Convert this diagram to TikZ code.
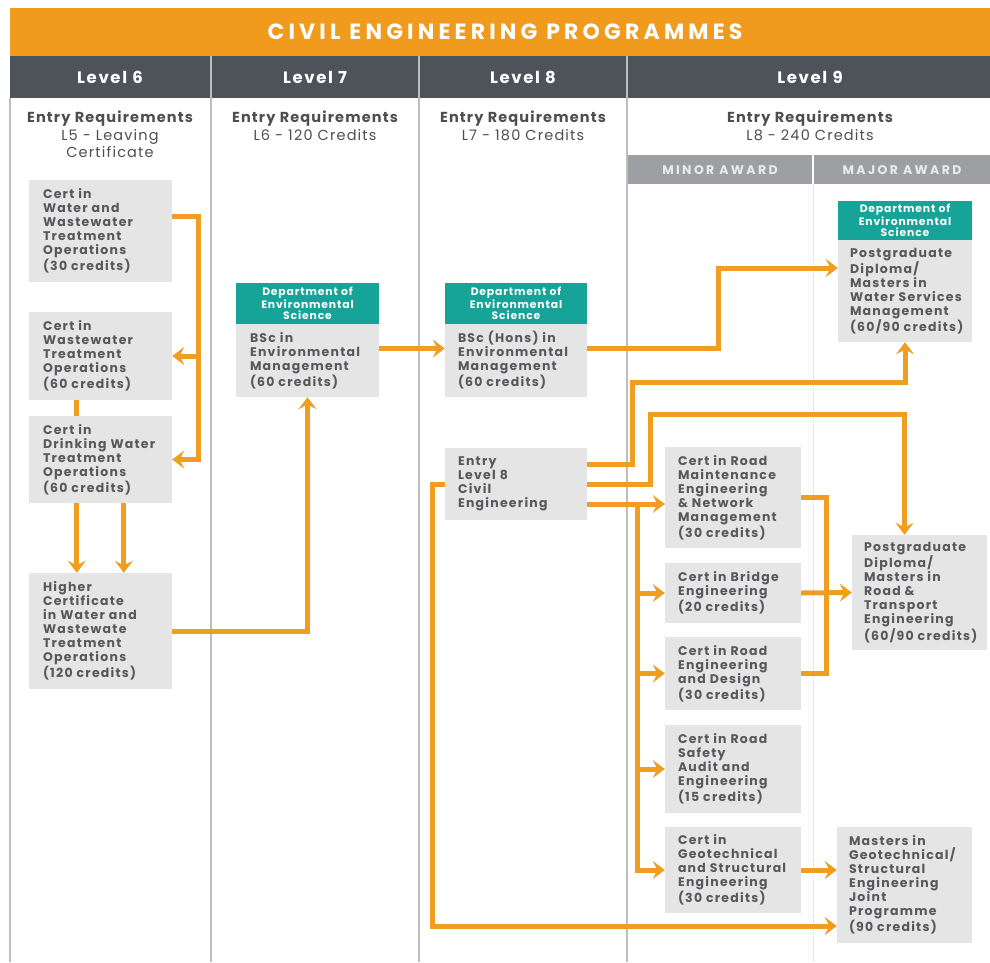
\documentclass[tikz,border=0pt]{standalone}
\usepackage{fontspec}
\setmainfont{Poppins}
\newfontfamily\popA{Poppins}[LetterSpace=10]
\newfontfamily\popB{Poppins}[LetterSpace=8]
\newfontfamily\popC{Poppins}[LetterSpace=19]
\usetikzlibrary{arrows.meta,calc}
\definecolor{bannerorange}{RGB}{241,155,30}
\definecolor{lineorange}{RGB}{240,158,34}
\definecolor{headdark}{RGB}{78,82,89}
\definecolor{awardgray}{RGB}{157,159,162}
\definecolor{colline}{RGB}{190,190,190}
\definecolor{boxgray}{RGB}{229,229,229}
\definecolor{txtgray}{RGB}{88,88,92}
\definecolor{reqgray}{RGB}{78,78,82}
\definecolor{teal}{RGB}{22,163,152}
\pgfdeclarelayer{grid}
\pgfdeclarelayer{links}
\pgfsetlayers{grid,links,main}
\tikzset{
  gbox/.style={fill=boxgray, draw=none, inner sep=0pt},
  tbox/.style={fill=teal, draw=none, inner sep=0pt, text=white, align=center,
    font=\fontsize{10.8}{11.4}\selectfont\popB\bfseries},
  btxt/.style={anchor=west, align=left, inner sep=0pt, text=txtgray,
    font=\fontsize{12.5}{14}\selectfont\popA\bfseries},
  reqtxt/.style={anchor=north, align=center, inner sep=0pt, text=reqgray,
    font=\fontsize{14.5}{17.5}\selectfont\popB},
  lvl/.style={text=white, font=\fontsize{16.5}{18}\selectfont\popA\bfseries},
  award/.style={text=white!92!black, font=\fontsize{12.5}{13}\selectfont\popC\bfseries},
  flow/.style={draw=lineorange, line width=5pt},
  arr/.style={flow, -{Stealth[length=12pt,width=18pt,inset=4.5pt]}}
}
\begin{document}
\begin{tikzpicture}[x=1pt,y=-1pt]
\useasboundingbox (0,0) rectangle (990,962);
\begin{pgfonlayer}{grid}
  \fill[white] (0,0) rectangle (990,962);
  \fill[bannerorange] (10,8) rectangle (990,56);
  \fill[headdark] (10,56) rectangle (990,98);
  \fill[awardgray] (627,155) rectangle (990,184);
  \foreach \xx in {211,419,627} \draw[colline, line width=2pt] (\xx,56) -- (\xx,962);
  \draw[colline, line width=2pt] (10,98) -- (10,962);
  \draw[white, line width=1.5pt] (813,155) -- (813,184);
  \draw[colline!60, line width=1pt, densely dotted] (813,184) -- (813,962);
\end{pgfonlayer}

% titles
\node[text=white, font=\fontsize{22}{24}\selectfont\popC\bfseries] (title) at (505,32) {CIVIL ENGINEERING PROGRAMMES};
\node[lvl] (l6) at (110,77) {Level 6};
\node[lvl] (l7) at (315,77) {Level 7};
\node[lvl] (l8) at (523,77) {Level 8};
\node[lvl] (l9) at (810,77) {Level 9};
\node[reqtxt] (r6) at (110,111) {\bfseries Entry Requirements\\L5 - Leaving\\Certificate};
\node[reqtxt] (r7) at (315,111) {\bfseries Entry Requirements\\L6 - 120 Credits};
\node[reqtxt] (r8) at (523,111) {\bfseries Entry Requirements\\L7 - 180 Credits};
\node[reqtxt] (r9) at (810,111) {\bfseries Entry Requirements\\L8 - 240 Credits};
\node[award] (minor) at (720,170) {MINOR AWARD};
\node[award] (major) at (902,170) {MAJOR AWARD};

% level 6 boxes
\node[gbox, minimum width=143pt, minimum height=102pt] (c6a) at (100.5,231) {};
\node[btxt] (c6at) at ($(c6a.west)+(14,0)$) {Cert in\\Water and\\Wastewater\\Treatment\\Operations\\(30 credits)};
\node[gbox, minimum width=143pt, minimum height=88pt] (c6b) at (100.5,356) {};
\node[btxt] (c6bt) at ($(c6b.west)+(14,0)$) {Cert in\\Wastewater\\Treatment\\Operations\\(60 credits)};
\node[gbox, minimum width=143pt, minimum height=87pt] (c6c) at (100.5,459.5) {};
\node[btxt] (c6ct) at ($(c6c.west)+(14,0)$) {Cert in\\Drinking Water\\Treatment\\Operations\\(60 credits)};
\node[gbox, minimum width=143pt, minimum height=116pt] (c6d) at (100.5,631) {};
\node[btxt] (c6dt) at ($(c6d.west)+(14,0)$) {Higher\\Certificate\\in Water and\\Wastewate\\Treatment\\Operations\\(120 credits)};

% level 7
\node[tbox, minimum width=143pt, minimum height=41pt] (d7) at (307.5,303.5) {Department of\\Environmental\\Science};
\node[gbox, minimum width=143pt, minimum height=73pt] (bsc) at (307.5,360.5) {};
\node[btxt] (bsct) at ($(bsc.west)+(14,0)$) {BSc in\\Environmental\\Management\\(60 credits)};

% level 8
\node[tbox, minimum width=142pt, minimum height=41pt] (d8) at (516,303.5) {Department of\\Environmental\\Science};
\node[gbox, minimum width=142pt, minimum height=73pt] (hons) at (516,360.5) {};
\node[btxt] (honst) at ($(hons.west)+(13,0)$) {BSc (Hons) in\\Environmental\\Management\\(60 credits)};
\node[gbox, minimum width=142pt, minimum height=72pt] (entry) at (516,484) {};
\node[btxt] (entryt) at ($(entry.west)+(13,0)$) {Entry\\Level 8\\Civil\\Engineering};

% level 9 minor
\node[gbox, minimum width=136pt, minimum height=101pt] (rm) at (733,497.5) {};
\node[btxt] (rmt) at ($(rm.west)+(13,0)$) {Cert in Road\\Maintenance\\Engineering\\\& Network\\Management\\(30 credits)};
\node[gbox, minimum width=136pt, minimum height=60pt] (br) at (733,593) {};
\node[btxt] (brt) at ($(br.west)+(13,0)$) {Cert in Bridge\\Engineering\\(20 credits)};
\node[gbox, minimum width=136pt, minimum height=73pt] (rd) at (733,673.5) {};
\node[btxt] (rdt) at ($(rd.west)+(13,0)$) {Cert in Road\\Engineering\\and Design\\(30 credits)};
\node[gbox, minimum width=136pt, minimum height=88pt] (rs) at (733,769) {};
\node[btxt] (rst) at ($(rs.west)+(13,0)$) {Cert in Road\\Safety\\Audit and\\Engineering\\(15 credits)};
\node[gbox, minimum width=136pt, minimum height=86pt] (gt) at (733,870) {};
\node[btxt] (gtt) at ($(gt.west)+(13,0)$) {Cert in\\Geotechnical\\and Structural\\Engineering\\(30 credits)};

% level 9 major
\node[tbox, minimum width=134pt, minimum height=39pt] (dpgw) at (905,220.5) {Department of\\Environmental\\Science};
\node[gbox, minimum width=134pt, minimum height=102pt] (pgw) at (905,291) {};
\node[btxt] (pgwt) at ($(pgw.west)+(12,0)$) {Postgraduate\\Diploma/\\Masters in\\Water Services\\Management\\(60/90 credits)};
\node[gbox, minimum width=135pt, minimum height=115pt] (pgr) at (919.5,592.5) {};
\node[btxt] (pgrt) at ($(pgr.west)+(12,0)$) {Postgraduate\\Diploma/\\Masters in\\Road \&\\Transport\\Engineering\\(60/90 credits)};
\node[gbox, minimum width=135pt, minimum height=116pt] (mg) at (904.5,885) {};
\node[btxt] (mgt) at ($(mg.west)+(12,0)$) {Masters in\\Geotechnical/\\Structural\\Engineering\\Joint\\Programme\\(90 credits)};

% connectors
\begin{pgfonlayer}{links}
  \draw[arr] ($(c6a.north east)+(0,37)$) -| ($(c6c.east)+(26,0)$) -- (c6c.east);
  \draw[arr] ($(c6b.east)+(26,0)$) -- (c6b.east);
  \draw[arr] ($(c6b.south west)+(48,0)$) -- ($(c6d.north west)+(48,0)$);
  \draw[arr] ($(c6c.south west)+(95,0)$) -- ($(c6d.north west)+(95,0)$);
  \draw[arr] (c6d.east) -| (bsc.south);
  \draw[arr] ($(bsc.east)+(0,-12)$) -- ($(hons.west)+(0,-12)$);
  \draw[arr] ($(hons.east)+(0,-12)$) -| ($(pgw.west)+(-119,-23)$) -- ($(pgw.west)+(0,-23)$);
  \draw[arr] ($(entry.east)+(0,-20)$) -| ++(45,-82) -| (pgw.south);
  \draw[arr] (entry.east) -| ++(63,-70) -| ($(pgr.north)+(-15,0)$);
  \draw[arr] ($(entry.east)+(0,20)$) -- ($(rm.west)+(0,6.5)$);
  \coordinate (bus) at ($(entry.east)+(50,20)$);
  \draw[arr] (bus) |- (gt.west);
  \draw[arr] (bus |- br.west) -- (br.west);
  \draw[arr] (bus |- rd.west) -- (rd.west);
  \draw[arr] (bus |- rs.west) -- (rs.west);
  \draw[flow] (rm.east) -| ($(rd.east)+(25,0)$) -- (rd.east);
  \draw[arr] (br.east) -- (pgr.west);
  \draw[arr] (gt.east) -- ($(mg.west)+(0,-15)$);
  \draw[arr] (entry.west) -- ++(-12,0) |- ($(mg.west)+(0,41)$);
\end{pgfonlayer}
\end{tikzpicture}
\end{document}
